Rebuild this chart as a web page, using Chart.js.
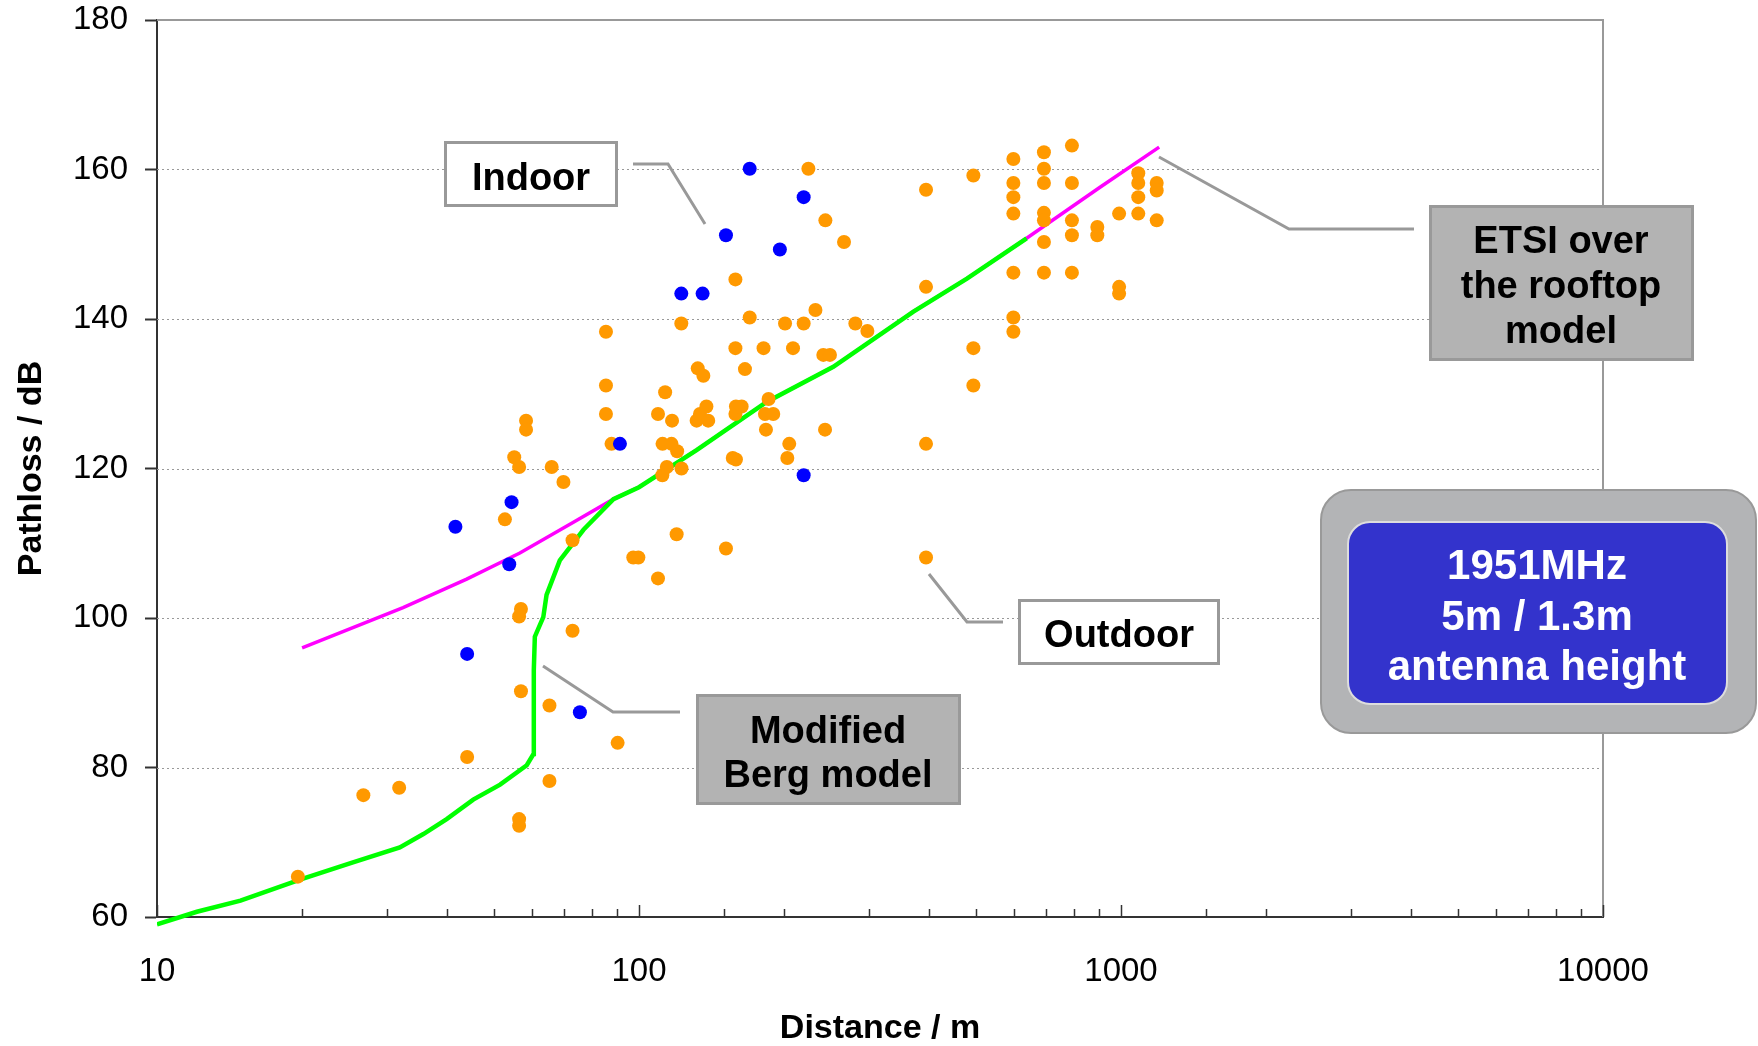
<!DOCTYPE html>
<html>
<head>
<meta charset="utf-8">
<script src="https://cdn.jsdelivr.net/npm/chart.js@4.4.1/dist/chart.umd.min.js"></script>
<style>
html,body{margin:0;padding:0;background:#fff;}
#wrap{position:relative;width:1758px;height:1046px;}
</style>
</head>
<body>
<div id="wrap"><canvas id="chart"></canvas></div>
<script>
// Measured outdoor points (distance in m, pathloss in dB)
const outdoorDist = [19.6,26.8,31.8,44,52.7,55.1,56.4,58.3,58.3,56.9,56.4,56.9,56.4,56.4,65.9,69.7,72.8,72.8,65.2,65.2,
  90.3,85.4,85.4,85.4,87.7,97.3,99.7,109.5,111.8,111.9,113.3,109.5,114.2,116.8,117.1,119.7,120,122.4,122.5,131.7,
  132.4,133.8,136,138,139.2,151.5,156.5,158.5,158.5,158.5,158.9,158.9,163.3,165.9,169.7,181.3,182.5,183.4,185.7,189.9,
  200.9,203.1,205,208.7,219.6,224.6,232.3,241.2,243.2,243.6,249,266.3,281.1,297.7,
  394,394,394,394,494,494,494,
  598,598,598,598,598,598,598,
  692,692,692,692,692,692,692,
  791,791,791,791,791,
  893,893,991,991,991,
  1086,1086,1086,1086,1186,1186,1186];
const outdoorLoss = [65.4,76.3,77.3,81.4,113.2,121.5,120.2,126.4,125.2,101.2,100.2,90.2,73.1,72.2,120.2,118.2,110.4,98.3,88.3,78.2,
  83.3,138.3,131.1,127.3,123.3,108.1,108.1,105.3,119.1,123.3,130.2,127.3,120.2,123.3,126.4,111.2,122.3,139.4,120.0,126.4,
  133.4,127.3,132.4,128.3,126.4,109.3,121.4,145.3,136.1,127.3,128.3,121.2,128.3,133.3,140.2,136.1,127.3,125.2,129.3,127.3,
  139.4,121.4,123.3,136.1,139.4,160.1,141.2,135.2,125.2,153.2,135.2,150.3,139.4,138.4,
  157.3,144.3,123.3,108.1,159.2,136.1,131.1,
  161.4,158.2,156.3,154.1,146.2,140.2,138.3,
  162.3,160.1,158.2,154.2,153.2,150.3,146.2,
  163.2,158.2,153.2,151.2,146.2,
  152.3,151.2,154.1,144.3,143.4,
  159.5,158.2,156.3,154.1,158.2,157.2,153.2];

// Measured indoor points
const indoorDist = [41.6,44,53.8,54.4,75.4,91.3,122.4,135.5,151.5,169.7,196,219.6,219.6];
const indoorLoss = [112.2,95.2,107.2,115.5,87.4,123.3,143.4,143.4,151.2,160.1,149.3,156.3,119.1];

// ETSI over the rooftop model
const etsiDist = [20,32.4,43.9,56.6,73.1,88.5,100,131.9,184,253,371,479,637,903,1200];
const etsiLoss = [96,101.4,105.2,108.7,112.8,115.9,117.5,122.5,128.9,133.6,141,145.4,150.8,157.6,163];

// Modified Berg model
const bergDist = [10,12.1,14.9,19.8,25.5,31.9,35.7,39.9,45.3,51.5,58.5,60.4,60.5,60.8,63.3,64.3,68.5,76.7,88.5,100,131.9,184,253,371,479,637];
const bergLoss = [59,60.7,62.2,65,67.3,69.3,71.1,73.1,75.7,77.7,80.3,81.8,93,97.5,100.1,103.1,107.7,111.8,115.9,117.5,122.5,128.9,133.6,141,145.4,150.8];

// Axis ticks
const xTickLabels = [10,100,1000,10000];
const yTicks = [60,80,100,120,140,160,180];

const FONT = '"Liberation Sans", Arial, sans-serif';
Chart.defaults.font.family = FONT;

const pts = (xs, ys) => xs.map((x,i)=>({x, y:ys[i]}));

// callout boxes (pixel layout of the annotations)
const callouts = [
  {box:[444,141,618,207], fill:'#ffffff', lines:['Indoor'], base:[190], cx:531, leader:[[633,164],[668,164],[705,224]]},
  {box:[1018,599,1220,665], fill:'#ffffff', lines:['Outdoor'], base:[647], cx:1119, leader:[[929,574],[967,622],[1003,622]]},
  {box:[696,694,961,805], fill:'#b3b3b3', lines:['Modified','Berg model'], base:[743,787], cx:828, leader:[[543,666],[613,712],[680,712]]},
  {box:[1429,205,1694,361], fill:'#b3b3b3', lines:['ETSI over','the rooftop','model'], base:[253,298,343], cx:1561, leader:[[1159,157],[1289,229],[1414,229]]}
];
const infoLines = ['1951MHz','5m / 1.3m','antenna height'];

function rrect(ctx,x,y,w,h,r){
  ctx.beginPath();
  ctx.moveTo(x+r,y);
  ctx.lineTo(x+w-r,y); ctx.arcTo(x+w,y,x+w,y+r,r);
  ctx.lineTo(x+w,y+h-r); ctx.arcTo(x+w,y+h,x+w-r,y+h,r);
  ctx.lineTo(x+r,y+h); ctx.arcTo(x,y+h,x,y+h-r,r);
  ctx.lineTo(x,y+r); ctx.arcTo(x,y,x+r,y,r);
  ctx.closePath();
}

const frame = {
  id:'frame',
  beforeDraw(chart){
    const ctx=chart.ctx;
    ctx.save(); ctx.fillStyle='#fff'; ctx.fillRect(0,0,chart.width,chart.height); ctx.restore();
  },
  beforeDatasetsDraw(chart){
    const {ctx, chartArea:a, scales:{y}} = chart;
    ctx.save();
    ctx.strokeStyle='#999'; ctx.lineWidth=1; ctx.setLineDash([2,3]);
    yTicks.forEach(v=>{
      if(v===60||v===180) return;
      const py=Math.round(y.getPixelForValue(v))+0.5;
      ctx.beginPath(); ctx.moveTo(a.left,py); ctx.lineTo(a.right,py); ctx.stroke();
    });
    ctx.restore();
  },
  afterDatasetsDraw(chart){
    const {ctx, chartArea:a, scales:{x}} = chart;
    ctx.save();
    // top / right frame
    ctx.strokeStyle='#999'; ctx.lineWidth=2;
    ctx.beginPath(); ctx.moveTo(a.left,a.top); ctx.lineTo(a.right,a.top); ctx.lineTo(a.right,a.bottom); ctx.stroke();
    // inward log ticks on x axis
    ctx.strokeStyle='#333'; ctx.lineWidth=1.5;
    x.ticks.forEach(t=>{
      const px=Math.round(x.getPixelForValue(t.value))+0.5;
      const major=xTickLabels.includes(t.value);
      ctx.beginPath(); ctx.moveTo(px,a.bottom); ctx.lineTo(px,a.bottom-(major?12:8)); ctx.stroke();
    });
    ctx.restore();
  },
  afterDraw(chart){
    const ctx=chart.ctx;
    ctx.save();
    callouts.forEach(c=>{
      ctx.strokeStyle='#999'; ctx.lineWidth=3; ctx.lineJoin='miter';
      ctx.beginPath();
      c.leader.forEach((p,i)=> i?ctx.lineTo(p[0],p[1]):ctx.moveTo(p[0],p[1]));
      ctx.stroke();
      const [x1,y1,x2,y2]=c.box;
      ctx.fillStyle=c.fill; ctx.fillRect(x1,y1,x2-x1,y2-y1);
      ctx.strokeRect(x1+1.5,y1+1.5,x2-x1-3,y2-y1-3);
      ctx.fillStyle='#000'; ctx.font='bold 38px '+FONT; ctx.textAlign='center'; ctx.textBaseline='alphabetic';
      c.lines.forEach((l,i)=>ctx.fillText(l,c.cx,c.base[i]));
    });
    // frequency / antenna info box
    rrect(ctx,1321,490,435,243,30);
    ctx.fillStyle='#b3b4b6'; ctx.fill(); ctx.strokeStyle='#999'; ctx.lineWidth=2; ctx.stroke();
    rrect(ctx,1348,522,379,182,22);
    ctx.fillStyle='#3333cc'; ctx.fill(); ctx.strokeStyle='#dddddd'; ctx.lineWidth=2; ctx.stroke();
    ctx.fillStyle='#fff'; ctx.font='bold 42px '+FONT; ctx.textAlign='center';
    [579,630,680].forEach((b,i)=>ctx.fillText(infoLines[i],1537,b));
    ctx.restore();
  }
};

new Chart(document.getElementById('chart'),{
  type:'scatter',
  data:{datasets:[
    {label:'Indoor', data:pts(indoorDist,indoorLoss), backgroundColor:'#0000ff', borderWidth:0, pointRadius:7, order:0},
    {label:'Outdoor', data:pts(outdoorDist,outdoorLoss), backgroundColor:'#ff9900', borderWidth:0, pointRadius:7, order:1},
    {label:'Modified Berg model', data:pts(bergDist,bergLoss), showLine:true, borderColor:'#00ff00', borderWidth:4.5, pointRadius:0, order:2, clip:{left:0,top:0,right:0,bottom:10}},
    {label:'ETSI over the rooftop model', data:pts(etsiDist,etsiLoss), showLine:true, borderColor:'#ff00ff', borderWidth:3.5, pointRadius:0, order:3}
  ]},
  options:{
    responsive:true, maintainAspectRatio:false, animation:false,
    layout:{padding:{left:0,top:20,right:155,bottom:0}},
    plugins:{legend:{display:false}, tooltip:{enabled:false}},
    scales:{
      x:{
        type:'logarithmic', min:10, max:10000,
        grid:{display:false, drawTicks:false},
        border:{color:'#333', width:2},
        ticks:{autoSkip:false, maxRotation:0, color:'#000', font:{size:33}, padding:35,
          callback:v=>xTickLabels.includes(v)?String(v):''},
        title:{display:true, text:'Distance / m', color:'#000', font:{size:34, weight:'bold', lineHeight:1}, padding:{top:0,bottom:0}},
        afterFit:s=>{s.height=129;}
      },
      y:{
        min:60, max:180,
        afterBuildTicks:s=>{s.ticks=yTicks.map(v=>({value:v}));},
        grid:{drawOnChartArea:false, drawTicks:true, tickLength:12, tickColor:'#333', tickWidth:2},
        border:{color:'#333', width:2},
        ticks:{color:'#000', font:{size:33}, padding:17},
        title:{display:true, text:'Pathloss / dB', color:'#000', font:{size:34, weight:'bold', lineHeight:1}, padding:{top:15,bottom:0}},
        afterFit:s=>{s.width=157; s.paddingTop=0; s.paddingBottom=0;}
      }
    }
  },
  plugins:[frame]
});
</script>
</body>
</html>
